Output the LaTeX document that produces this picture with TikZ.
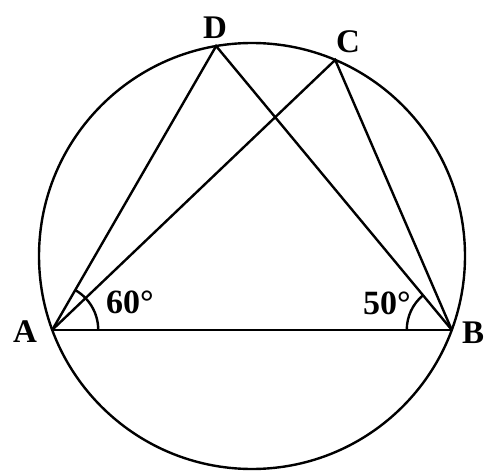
\documentclass[tikz,border=0pt]{standalone}
\usepackage{fontspec}
\setmainfont{Liberation Serif}
\usetikzlibrary{calc}
\begin{document}
\begin{tikzpicture}[x=1pt,y=1pt,
  geo/.style={line width=2.4pt, black},
  lbl/.style={font=\bfseries\fontsize{33}{33}\selectfont, inner sep=0pt},
  ang/.style={font=\bfseries\fontsize{34}{34}\selectfont, inner sep=0pt}]
\useasboundingbox (0,0) rectangle (484,472);
\coordinate (O) at (252,216);
\coordinate (A) at ($(O)+(200.3:213)$);
\coordinate (B) at ($(O)+(339.7:213)$);
\coordinate (D) at ($(O)+(99.7:213)$);
\coordinate (C) at ($(O)+(67:213)$);
\draw[geo] (O) circle (213);
\draw[geo] (A) -- (B);
\draw[geo] (A) -- (D) -- (B);
\draw[geo] (A) -- (C) -- (B);
\draw[geo] ($(A)+(46,0)$) arc (0:60:46);
\draw[geo] ($(B)+(-45,0)$) arc (180:130:45);
\node[lbl] (lA) at (25,140) {A};
\node[lbl] (lB) at (473,139) {B};
\node[lbl] (lD) at (215,444) {D};
\node[lbl] (lC) at (348,430) {C};
\node[ang] (a60) at (130,170) {60°};
\node[ang] (a50) at (387,169) {50°};
\end{tikzpicture}
\end{document}
